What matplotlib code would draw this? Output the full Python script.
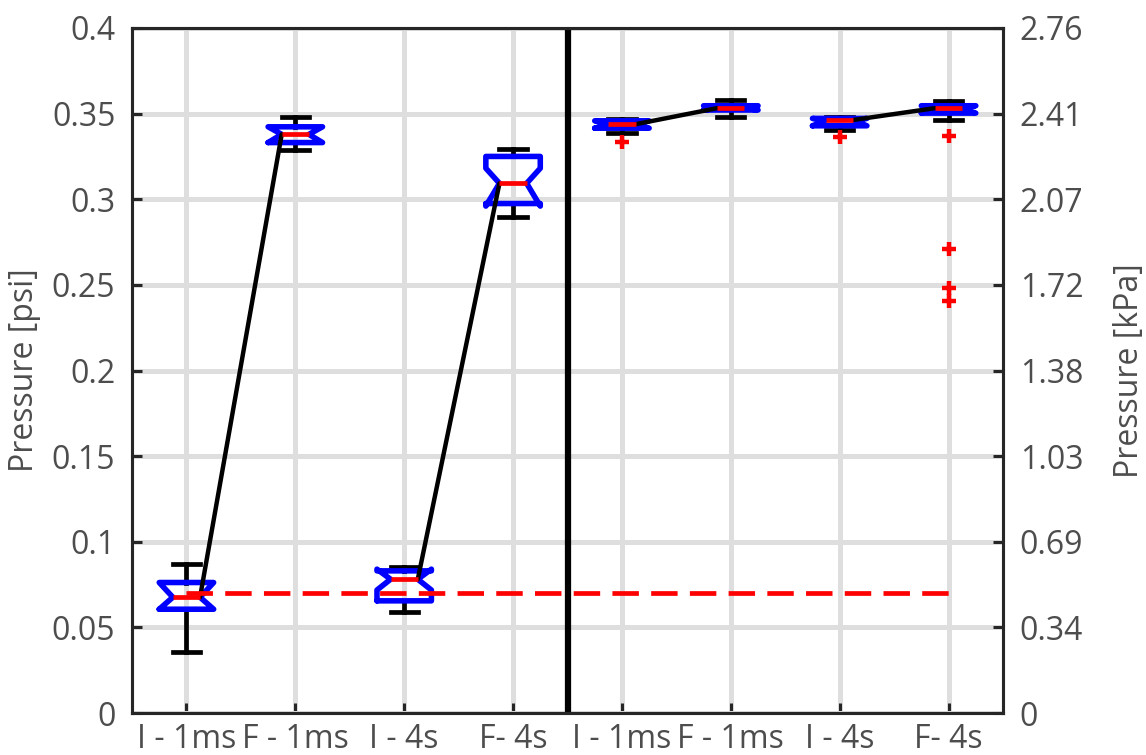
import matplotlib
matplotlib.use("Agg")
import matplotlib.pyplot as plt
import numpy as np

plt.rcParams['font.family'] = ['Open Sans', 'DejaVu Sans']

# ---- data (psi) ----
categories = ["I - 1ms", "F - 1ms", "I - 4s", "F- 4s",
              "I - 1ms", "F - 1ms", "I - 4s", "F- 4s"]
positions = np.arange(1, 9)

medians = [0.0676, 0.3379, 0.0781, 0.3093, 0.3438, 0.3532, 0.3463, 0.3532]
q1 = [0.0606, 0.3331, 0.0655, 0.2975, 0.3415, 0.3521, 0.3429, 0.3503]
q3 = [0.0762, 0.3423, 0.0830, 0.3250, 0.3458, 0.3546, 0.3472, 0.3546]
notch_lo = [0.0606, 0.3331, 0.0718, 0.2960, 0.3415, 0.3521, 0.3429, 0.3503]
notch_hi = [0.0762, 0.3423, 0.0840, 0.3181, 0.3458, 0.3546, 0.3472, 0.3546]
whisker_lo = [0.0358, 0.3290, 0.0592, 0.2896, 0.3389, 0.3480, 0.3404, 0.3463]
whisker_hi = [0.0871, 0.3480, 0.0851, 0.3295, 0.3467, 0.3582, 0.3482, 0.3572]
outliers = [[], [], [], [], [0.3336], [], [0.3362],
            [0.3369, 0.2708, 0.2480, 0.2408]]

reference_level = 0.07
pairs = [(0, 1), (2, 3), (4, 5), (6, 7)]

left_ticks = [0, 0.05, 0.1, 0.15, 0.2, 0.25, 0.3, 0.35, 0.4]
left_ticklabels = ["0", "0.05", "0.1", "0.15", "0.2", "0.25", "0.3", "0.35", "0.4"]
right_ticklabels = ["0", "0.34", "0.69", "1.03", "1.38", "1.72", "2.07", "2.41", "2.76"]
PSI_TO_KPA = 6.89476

# ---- styling ----
text_color = "#4d4d4d"
spine_color = "#262626"
grid_color = "#dedede"
fs = 23
box_width = 0.5

fig = plt.figure(figsize=(11.46, 7.55), dpi=100)
ax = fig.add_axes([132 / 1146, 42 / 755, 871 / 1146, 685 / 755])

stats = []
for i in range(len(positions)):
    stats.append(dict(med=medians[i], q1=q1[i], q3=q3[i],
                      cilo=notch_lo[i], cihi=notch_hi[i],
                      whislo=whisker_lo[i], whishi=whisker_hi[i],
                      fliers=outliers[i], label=categories[i]))

ax.bxp(stats, positions=positions, widths=box_width, capwidths=0.25,
       shownotches=True, showfliers=True, patch_artist=False,
       boxprops=dict(color="#0000ff", linewidth=4.0, zorder=3,
                     solid_joinstyle="round", solid_capstyle="round"),
       medianprops=dict(color="#ff0000", linewidth=3.4, zorder=5,
                        solid_capstyle="butt"),
       whiskerprops=dict(color="black", linewidth=3.4, zorder=2),
       capprops=dict(color="black", linewidth=3.4, zorder=2),
       flierprops=dict(marker="+", markeredgecolor="#ff0000",
                       markersize=10, markeredgewidth=3.2, zorder=4))

# lines joining medians of each initial/final pair (waist edge to waist edge)
half_waist = box_width * 0.25
for a, b in pairs:
    ax.plot([positions[a] + half_waist, positions[b] - half_waist],
            [medians[a], medians[b]], color="black", linewidth=3.2,
            zorder=4, solid_capstyle="round")

# reference level
ax.plot([positions[0], positions[-1]], [reference_level, reference_level],
        color="#ff0000", linewidth=3.4, linestyle=(0, (5.6, 2.6)), zorder=4)

# separator between the two groups
ax.axvline(4.5, color="black", linewidth=4.5, zorder=6)

ax.set_xlim(0.5, 8.5)
ax.set_ylim(0, 0.4)
ax.set_xticks(positions)
ax.set_xticklabels(categories)
ax.set_yticks(left_ticks)
ax.set_yticklabels(left_ticklabels)
ax.set_ylabel("Pressure [psi]", fontsize=fs, color=text_color)
ax.yaxis.set_label_coords(-0.105, 0.5)

ax.grid(True, color=grid_color, linewidth=3.6, zorder=0)
ax.set_axisbelow(True)

for sp in ax.spines.values():
    sp.set_color(spine_color)
    sp.set_linewidth(2.2)
    sp.set_zorder(7)

ax.tick_params(axis="both", direction="in", length=7, width=2.2,
               color=spine_color, labelsize=fs, labelcolor=text_color)
ax.tick_params(axis="x", pad=7)
ax.tick_params(axis="y", pad=12)

# right axis in kPa
ax2 = ax.twinx()
ax2.set_ylim(0, 0.4 * PSI_TO_KPA)
ax2.set_yticks([t * PSI_TO_KPA for t in left_ticks])
ax2.set_yticklabels(right_ticklabels)
ax2.set_ylabel("Pressure [kPa]", fontsize=fs, color=text_color)
ax2.yaxis.set_label_coords(1.126, 0.5)
ax2.tick_params(axis="y", direction="in", length=7, width=2.2,
                color=spine_color, labelsize=fs, labelcolor=text_color, pad=12)
for sp in ax2.spines.values():
    sp.set_color(spine_color)
    sp.set_linewidth(2.2)

fig.savefig("out.png", dpi=100)
